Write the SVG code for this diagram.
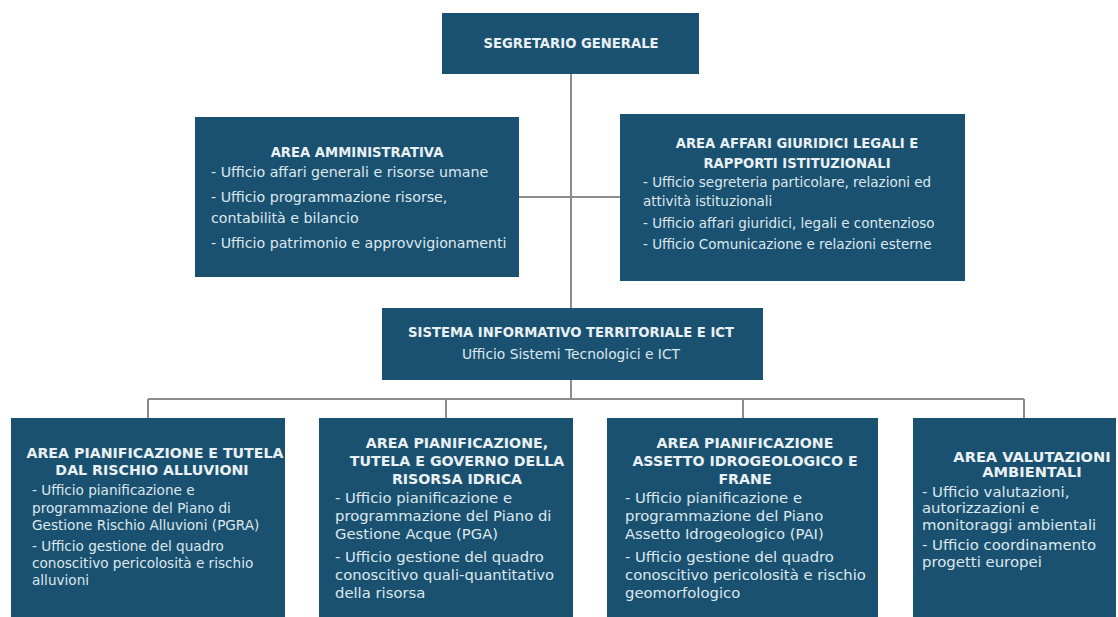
<svg xmlns="http://www.w3.org/2000/svg" width="1118" height="617" viewBox="0 0 1118 617">
<style>
.box{fill:#1b5170;}
.t{font-family:"DejaVu Sans","Liberation Sans",sans-serif;font-weight:700;font-size:13.2px;fill:#eaf1f4;text-anchor:middle;}
.tb{font-size:14.2px;}
.b{font-family:"DejaVu Sans","Liberation Sans",sans-serif;font-size:13.8px;fill:#dde8ee;}
.c{text-anchor:middle;}
.ln{stroke:#8c8c8c;stroke-width:2;fill:none;}
</style>
<rect width="1118" height="617" fill="#ffffff"/>
<g id="connectors">
<path class="ln" d="M571 74 V308 M519 197 H620 M571 380 V399 M148 399 H1024 M148 399 V418 M446 399 V418 M743 399 V418 M1024 399 V418"/>
</g>
<g id="segretario">
<rect class="box" x="442" y="13" width="257" height="61"/>
<text class="t" x="571" y="48">SEGRETARIO GENERALE</text>
</g>
<g id="amministrativa">
<rect class="box" x="195" y="117" width="324" height="160"/>
<text class="t" x="357" y="157">AREA AMMINISTRATIVA</text>
<text class="b" x="211" y="177" style="font-size:14.2px">- Ufficio affari generali e risorse umane</text>
<text class="b" x="211" y="202" style="font-size:14.2px">- Ufficio programmazione risorse,</text>
<text class="b" x="211" y="223" style="font-size:14.2px">contabilità e bilancio</text>
<text class="b" x="211" y="248" style="font-size:14.2px">- Ufficio patrimonio e approvvigionamenti</text>
</g>
<g id="giuridici">
<rect class="box" x="620" y="114" width="345" height="167"/>
<text class="t" x="797" y="148">AREA AFFARI GIURIDICI LEGALI E</text>
<text class="t" x="797" y="168">RAPPORTI ISTITUZIONALI</text>
<text class="b" x="643" y="187" style="font-size:13.5px">- Ufficio segreteria particolare, relazioni ed</text>
<text class="b" x="643" y="206" style="font-size:13.5px">attività istituzionali</text>
<text class="b" x="643" y="228" style="font-size:13.5px">- Ufficio affari giuridici, legali e contenzioso</text>
<text class="b" x="643" y="249" style="font-size:13.5px">- Ufficio Comunicazione e relazioni esterne</text>
</g>
<g id="sistema">
<rect class="box" x="382" y="308" width="381" height="72"/>
<text class="t" x="571" y="337">SISTEMA INFORMATIVO TERRITORIALE E ICT</text>
<text class="b c" x="571" y="359">Ufficio Sistemi Tecnologici e ICT</text>
</g>
<g id="alluvioni">
<rect class="box" x="11" y="418" width="274" height="199"/>
<text class="t tb" x="155" y="458">AREA PIANIFICAZIONE E TUTELA</text>
<text class="t tb" x="152" y="475">DAL RISCHIO ALLUVIONI</text>
<text class="b" x="32" y="495" style="font-size:13.6px">- Ufficio pianificazione e</text>
<text class="b" x="32" y="513" style="font-size:13.6px">programmazione del Piano di</text>
<text class="b" x="32" y="530" style="font-size:13.6px">Gestione Rischio Alluvioni (PGRA)</text>
<text class="b" x="32" y="551" style="font-size:13.6px">- Ufficio gestione del quadro</text>
<text class="b" x="32" y="568" style="font-size:13.6px">conoscitivo pericolosità e rischio</text>
<text class="b" x="32" y="585" style="font-size:13.6px">alluvioni</text>
</g>
<g id="idrica">
<rect class="box" x="319" y="418" width="254" height="199"/>
<text class="t tb" x="457" y="448">AREA PIANIFICAZIONE,</text>
<text class="t tb" x="457" y="466">TUTELA E GOVERNO DELLA</text>
<text class="t tb" x="457" y="484">RISORSA IDRICA</text>
<text class="b" x="335" y="503" style="font-size:14.8px">- Ufficio pianificazione e</text>
<text class="b" x="335" y="521" style="font-size:14.8px">programmazione del Piano di</text>
<text class="b" x="335" y="539" style="font-size:14.8px">Gestione Acque (PGA)</text>
<text class="b" x="335" y="562" style="font-size:14.8px">- Ufficio gestione del quadro</text>
<text class="b" x="335" y="580" style="font-size:14.8px">conoscitivo quali-quantitativo</text>
<text class="b" x="335" y="598" style="font-size:14.8px">della risorsa</text>
</g>
<g id="idrogeologico">
<rect class="box" x="607" y="418" width="271" height="199"/>
<text class="t tb" x="745" y="448">AREA PIANIFICAZIONE</text>
<text class="t tb" x="745" y="466">ASSETTO IDROGEOLOGICO E</text>
<text class="t tb" x="745" y="484">FRANE</text>
<text class="b" x="625" y="503" style="font-size:14.8px">- Ufficio pianificazione e</text>
<text class="b" x="625" y="521" style="font-size:14.8px">programmazione del Piano</text>
<text class="b" x="625" y="539" style="font-size:14.8px">Assetto Idrogeologico (PAI)</text>
<text class="b" x="625" y="562" style="font-size:14.8px">- Ufficio gestione del quadro</text>
<text class="b" x="625" y="580" style="font-size:14.8px">conoscitivo pericolosità e rischio</text>
<text class="b" x="625" y="598" style="font-size:14.8px">geomorfologico</text>
</g>
<g id="ambientali">
<rect class="box" x="913" y="418" width="203" height="199"/>
<text class="t tb" x="1032" y="462" style="font-size:14.6px">AREA VALUTAZIONI</text>
<text class="t tb" x="1032" y="477" style="font-size:14.6px">AMBIENTALI</text>
<text class="b" x="922" y="497" style="font-size:14.9px"> - Ufficio valutazioni,</text>
<text class="b" x="922" y="513" style="font-size:14.9px">autorizzazioni e</text>
<text class="b" x="922" y="530" style="font-size:14.9px">monitoraggi ambientali</text>
<text class="b" x="922" y="550" style="font-size:14.9px">- Ufficio coordinamento</text>
<text class="b" x="922" y="567" style="font-size:14.9px">progetti europei</text>
</g>
</svg>
